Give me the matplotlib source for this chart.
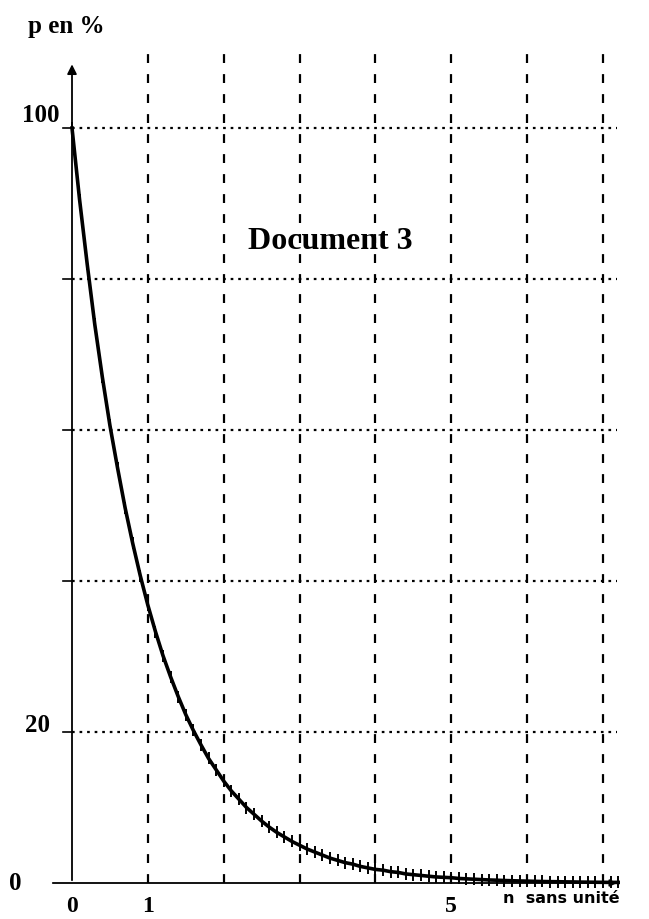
import numpy as np
import matplotlib.pyplot as plt

# values, every 0.1 in n
n_vals = [round(0.1 * i, 1) for i in range(73)]
p_vals = [100, 90.5, 82, 74, 67, 60.6, 55, 49.7, 45, 40.7,
          36.8, 33.3, 30.1, 27.3, 24.7, 22.3, 20.2, 18.3, 16.5, 15.0,
          13.5, 12.2, 11.1, 10.0, 9.1, 8.2, 7.4, 6.7, 6.1, 5.5,
          5.0, 4.5, 4.1, 3.7, 3.3, 3.0, 2.7, 2.5, 2.2, 2.0,
          1.8, 1.7, 1.5, 1.4, 1.2, 1.1, 1.0, 0.9, 0.8, 0.75,
          0.7, 0.6, 0.55, 0.5, 0.45, 0.4, 0.37, 0.33, 0.3, 0.27,
          0.25, 0.22, 0.2, 0.18, 0.17, 0.15, 0.14, 0.12, 0.11, 0.1,
          0.09, 0.08, 0.08]

x_grid = [1, 2, 3, 4, 5, 6, 7]
y_grid = [20, 40, 60, 80, 100]
x_labels = {0: '0', 1: '1', 5: '5'}
y_labels = {20: '20', 100: '100'}

serif = 'Liberation Serif'

fig = plt.figure(figsize=(6.49, 9.19), dpi=100)
ax = fig.add_axes([0, 0, 1, 1])
# map pixels: n=0 at x=72, 75.86 px/unit ; p=0 at y=883, 7.55 px/unit
ax.set_xlim(-72 / 75.86, (649 - 72) / 75.86)
ax.set_ylim(-36 / 7.55, 883 / 7.55)
ax.axis('off')

# grid
for xv in x_grid:
    ax.plot([xv, xv], [0, 110.6], color='black', lw=1.6,
            dashes=(4, 5), zorder=1)
for yv in y_grid:
    ax.plot([0, 7.18], [yv, yv], color='black', lw=1.6,
            dashes=(1.2, 2.2), zorder=1)
    ax.plot([-0.12, 0], [yv, yv], color='black', lw=1.2, zorder=1)

# axes with arrows
ax.annotate('', xy=(0, 108.8), xytext=(0, 0),
            arrowprops=dict(arrowstyle='-|>', color='black', lw=1.3,
                            mutation_scale=14), zorder=2)
ax.annotate('', xy=(7.22, 0), xytext=(-0.29, 0),
            arrowprops=dict(arrowstyle='-|>', color='black', lw=1.3,
                            mutation_scale=10), zorder=2)

# curve
ax.plot(n_vals, p_vals, color='black', lw=2.6, marker='|', ms=8,
        mew=1.4, zorder=3)

# labels
for xv, lab in x_labels.items():
    ax.text(xv, -3.1, lab, family=serif, weight='bold', fontsize=17,
            ha='center', va='center')
ax.text(-0.41, 101.7, y_labels[100], family=serif, weight='bold',
        fontsize=18, ha='center', va='center')
ax.text(-0.46, 20.9, y_labels[20], family=serif, weight='bold',
        fontsize=18, ha='center', va='center')
ax.text(-0.75, 0, '0', family=serif, weight='bold', fontsize=18,
        ha='center', va='center')

ax.text(-0.58, 113.4, 'p en %', family=serif, weight='bold', fontsize=18,
        ha='left', va='center')
ax.text(3.41, 85.0, 'Document 3', family=serif, weight='bold', fontsize=23,
        ha='center', va='center')
ax.text(6.45, -2.1, 'n  sans unité', family='DejaVu Sans', weight='bold',
        fontsize=11.5, ha='center', va='center')

fig.savefig('out.png', dpi=100)
